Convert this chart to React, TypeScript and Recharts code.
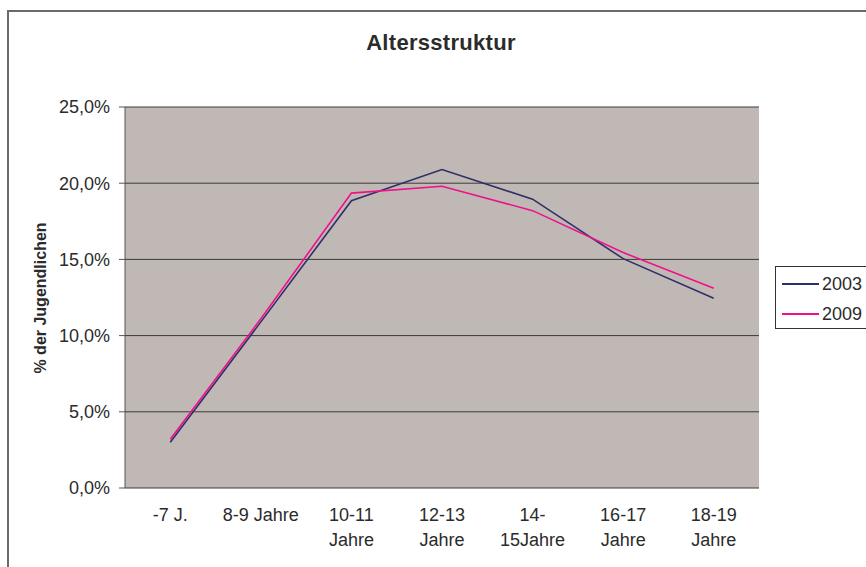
import React from "react";
import { LineChart, Line, XAxis, YAxis, CartesianGrid, Legend } from "recharts";

// Altersstruktur der Jugendlichen, Anteil je Altersgruppe in %
const categories = [
  "-7 J.",
  "8-9 Jahre",
  "10-11\nJahre",
  "12-13\nJahre",
  "14-\n15Jahre",
  "16-17\nJahre",
  "18-19\nJahre",
];
const values2003 = [3.0, 10.9, 18.85, 20.9, 18.95, 15.05, 12.45];
const values2009 = [3.2, 11.1, 19.35, 19.8, 18.2, 15.45, 13.1];
const yTicks = [0, 5, 10, 15, 20, 25];

const FONT = "'Liberation Sans', Arial, sans-serif";
const TEXT = "#2b2b2b";

const data = categories.map((cat, i) => ({
  cat,
  pos: i + 0.5,
  y2003: values2003[i],
  y2009: values2009[i],
}));
const boundaryTicks = [...categories.map((_, i) => i), categories.length];
const centerTicks = data.map((d) => d.pos);

function CatTick(props: any) {
  const { x, y, payload } = props;
  const idx = Math.round(payload.value - 0.5);
  const lines = (categories[idx] ?? "").split("\n");
  return (
    <text x={x} y={y} textAnchor="middle" fill={TEXT} fontSize={18} fontFamily={FONT}>
      {lines.map((l, k) => (
        <tspan key={k} x={x} y={y + 33 + k * 25}>
          {l}
        </tspan>
      ))}
    </text>
  );
}

// legend box runs off the right edge in the original, so no right border
function LegendBox(props: any) {
  const items = props.payload ?? [];
  return (
    <div
      style={{
        border: "1px solid #333",
        borderRight: "none",
        background: "#fff",
        width: 91,
        height: 63,
        boxSizing: "border-box",
        paddingTop: 2,
      }}
    >
      {items.map((it: any) => (
        <div key={it.value} style={{ display: "flex", alignItems: "center", height: 30 }}>
          <span style={{ display: "inline-block", marginLeft: 6, width: 37, height: 2, background: it.color }} />
          <span style={{ marginLeft: 3, fontSize: 18, fontFamily: FONT, color: TEXT }}>{it.value}</span>
        </div>
      ))}
    </div>
  );
}

export default function App() {
  return (
    <div
      style={{
        position: "fixed",
        left: 0,
        top: 0,
        width: 866,
        height: 567,
        overflow: "hidden",
        background: "#fff",
      }}
    >
      <div
        style={{
          position: "absolute",
          left: 7,
          top: 10,
          width: 900,
          height: 600,
          border: "2px solid #6a6a6a",
        }}
      />
      <div
        style={{
          position: "absolute",
          left: 441,
          top: 31,
          transform: "translateX(-50%)",
          fontFamily: FONT,
          fontWeight: "bold",
          fontSize: 22,
          lineHeight: "24px",
          letterSpacing: 0.3,
          color: TEXT,
          whiteSpace: "nowrap",
        }}
      >
        Altersstruktur
      </div>
      <div style={{ position: "absolute", left: 0, top: 0 }}>
        <LineChart
          width={866}
          height={567}
          data={data}
          margin={{ top: 107, right: 107, bottom: 0, left: 0 }}
        >
          <CartesianGrid
            vertical={false}
            fill="#c0b8b5"
            fillOpacity={1}
            stroke="#3a3a3a"
            strokeWidth={1}
          />
          <XAxis
            type="number"
            dataKey="pos"
            domain={[0, categories.length]}
            ticks={boundaryTicks}
            interval={0}
            height={0}
            tick={false}
            tickSize={7}
            tickLine={{ stroke: "#555" }}
            axisLine={{ stroke: "#555" }}
          />
          <XAxis
            xAxisId="labels"
            type="number"
            dataKey="pos"
            domain={[0, categories.length]}
            ticks={centerTicks}
            interval={0}
            height={79}
            tickSize={0}
            tickMargin={0}
            tickLine={false}
            axisLine={false}
            tick={<CatTick />}
          />
          <XAxis
            xAxisId="top"
            orientation="top"
            type="number"
            dataKey="pos"
            domain={[0, categories.length]}
            height={0}
            tick={false}
            tickLine={false}
            axisLine={{ stroke: "#8a8a8a" }}
          />
          <YAxis
            domain={[0, 25]}
            ticks={yTicks}
            interval={0}
            width={125}
            tickSize={6}
            tickMargin={9}
            tickLine={{ stroke: "#555" }}
            axisLine={{ stroke: "#555" }}
            tick={{ fill: TEXT, fontSize: 18, fontFamily: FONT }}
            tickFormatter={(v: number) => `${v.toFixed(1).replace(".", ",")}%`}
            label={{
              content: () => (
                <text
                  x={40}
                  y={298}
                  transform="rotate(-90, 40, 298)"
                  textAnchor="middle"
                  dominantBaseline="central"
                  fill={TEXT}
                  fontSize={16}
                  fontWeight="bold"
                  fontFamily={FONT}
                >
                  % der Jugendlichen
                </text>
              ),
            }}
          />
          <YAxis
            yAxisId="right"
            orientation="right"
            domain={[0, 25]}
            width={0}
            tick={false}
            tickLine={false}
            axisLine={{ stroke: "#8a8a8a" }}
          />
          <Legend
            layout="vertical"
            align="center"
            verticalAlign="middle"
            content={<LegendBox />}
            wrapperStyle={{ left: 775, top: 266, width: 91, height: 63 }}
          />
          <Line
            type="linear"
            dataKey="y2003"
            name="2003"
            stroke="#2f2f68"
            strokeWidth={1.6}
            dot={false}
            isAnimationActive={false}
          />
          <Line
            type="linear"
            dataKey="y2009"
            name="2009"
            stroke="#f0108a"
            strokeWidth={1.6}
            dot={false}
            isAnimationActive={false}
          />
        </LineChart>
      </div>
    </div>
  );
}
